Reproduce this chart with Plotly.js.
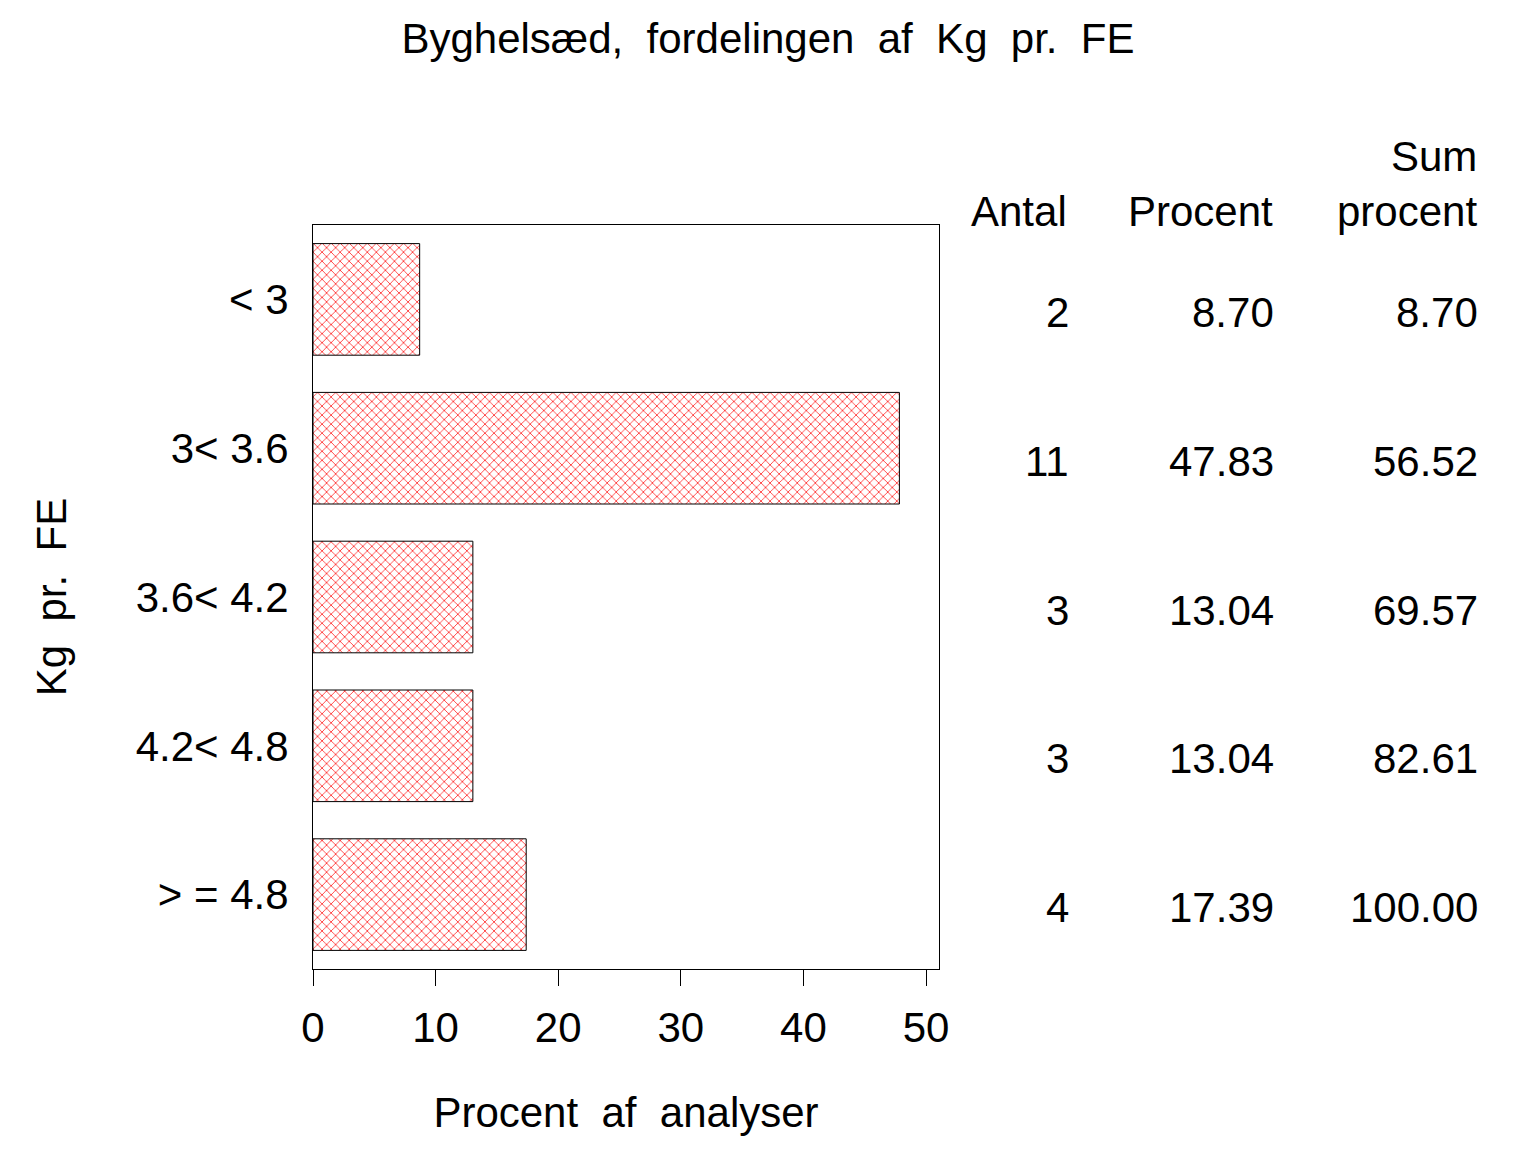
<!DOCTYPE html>
<html>
<head>
<meta charset="utf-8">
<script src="https://cdn.plot.ly/plotly-3.0.1.min.js"></script>
<style>
  html, body { margin: 0; padding: 0; background: #fff; }
  #chart { width: 1536px; height: 1152px; }
</style>
</head>
<body>
<div id="chart"></div>
<script>
// Kg pr. FE classes and their counts / percentages
const categories = ['< 3', '3< 3.6', '3.6< 4.2', '4.2< 4.8', '> = 4.8'];
const antal = [2, 11, 3, 3, 4];
const procent = [8.70, 47.83, 13.04, 13.04, 17.39];
const sumProcent = [8.70, 56.52, 69.57, 82.61, 100.00];
const xTicks = [0, 10, 20, 30, 40, 50];

const FONT = 'Liberation Sans, Arial, sans-serif';

const trace = {
  type: 'bar',
  orientation: 'h',
  y: categories,
  x: procent,
  marker: {
    color: 'white',
    line: { color: 'black', width: 1 },
    pattern: { shape: 'x', fgcolor: 'red', bgcolor: 'white', size: 6.4, solidity: 0.2 },
  },
  hoverinfo: 'none',
};

// table to the right of the plot
const colX = [1.211, 1.538, 1.864];
const columns = [antal, procent.map((v) => v.toFixed(2)), sumProcent.map((v) => v.toFixed(2))];
const annotations = [];
columns.forEach((vals, c) => {
  vals.forEach((v, i) => {
    annotations.push({
      xref: 'paper', yref: 'y', x: colX[c], y: categories[i],
      text: String(v), xanchor: 'right', yanchor: 'middle', yshift: -13,
      showarrow: false, font: { family: FONT, size: 42, color: 'black' },
    });
  });
});
const headers = [
  { text: 'Antal', x: colX[0] - 0.003, y: 1.0188 },
  { text: 'Procent', x: colX[1] - 0.002, y: 1.0188 },
  { text: 'procent', x: colX[2] - 0.002, y: 1.0188 },
  { text: 'Sum', x: colX[2] - 0.002, y: 1.0927 },
];
headers.forEach((h) => {
  annotations.push({
    xref: 'paper', yref: 'paper', x: h.x, y: h.y, text: h.text,
    xanchor: 'right', yanchor: 'middle', showarrow: false,
    font: { family: FONT, size: 42, color: 'black' },
  });
});

const layout = {
  width: 1536,
  height: 1152,
  paper_bgcolor: 'white',
  plot_bgcolor: 'white',
  margin: { l: 313, r: 597, t: 225, b: 183 },
  font: { family: FONT, size: 42, color: 'black' },
  showlegend: false,
  bargap: 0.25,
  title: {
    text: 'Byghelsæd,  fordelingen  af  Kg  pr.  FE',
    x: 0.5, xanchor: 'center', y: 1 - 38 / 1152, yanchor: 'middle', yref: 'container',
    font: { family: FONT, size: 42, color: 'black' },
  },
  xaxis: {
    range: [0, 51.06],
    tickvals: xTicks,
    ticktext: xTicks.map(String),
    ticks: 'outside',
    ticklen: 16,
    tickwidth: 1,
    tickcolor: 'black',
    ticklabelstandoff: 6,
    showline: true,
    mirror: true,
    linecolor: 'black',
    linewidth: 1,
    showgrid: false,
    zeroline: false,
    automargin: false,
    title: { text: 'Procent  af  analyser', standoff: 47, font: { family: FONT, size: 42, color: 'black' } },
  },
  yaxis: {
    type: 'category',
    range: [4.5, -0.5],
    ticks: '',
    ticklabelstandoff: 15,
    showline: true,
    mirror: true,
    linecolor: 'black',
    linewidth: 1,
    showgrid: false,
    zeroline: false,
    automargin: false,
    title: { text: 'Kg  pr.  FE', standoff: 55, font: { family: FONT, size: 42, color: 'black' } },
  },
  annotations: annotations,
};

Plotly.newPlot('chart', [trace], layout, { staticPlot: true, displayModeBar: false });
</script>
</body>
</html>
